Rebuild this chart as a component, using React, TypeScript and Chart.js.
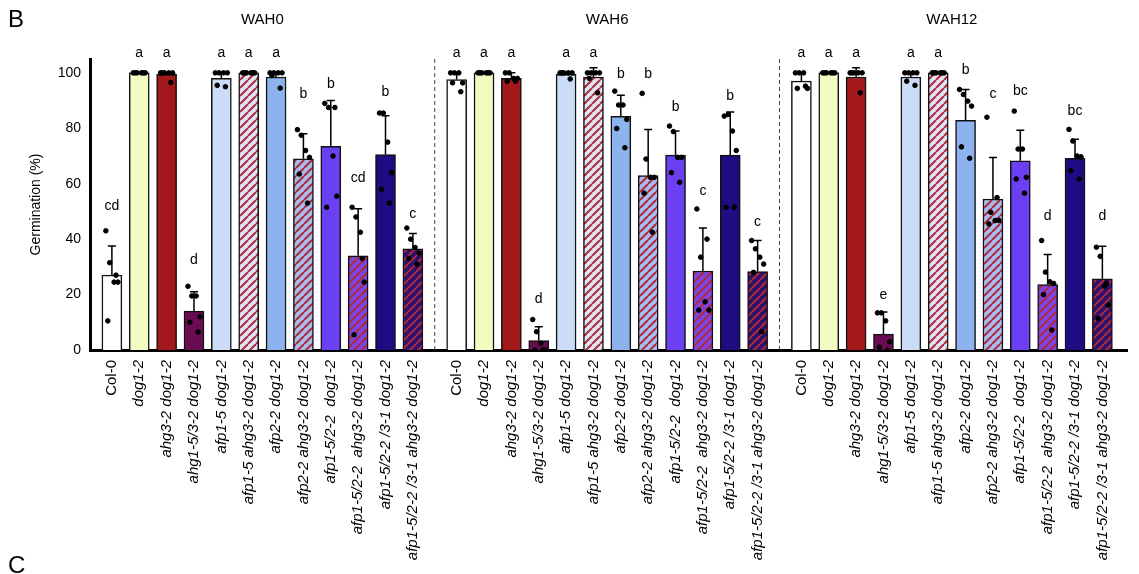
import React, { useEffect, useRef } from "react";
import { Chart, registerables } from "chart.js";
Chart.register(...registerables);

const groups = ["WAH0", "WAH6", "WAH12"];
const genotypes = ["Col-0", "dog1-2", "ahg3-2 dog1-2", "ahg1-5/3-2 dog1-2", "afp1-5 dog1-2", "afp1-5 ahg3-2 dog1-2", "afp2-2 dog1-2", "afp2-2 ahg3-2 dog1-2", "afp1-5/2-2  dog1-2", "afp1-5/2-2  ahg3-2 dog1-2", "afp1-5/2-2 /3-1 dog1-2", "afp1-5/2-2 /3-1 ahg3-2 dog1-2"];
const means = [
  [27, 100, 99.5, 14, 98, 100, 98.5, 69, 73.5, 34, 70.5, 36.5],
  [97.6, 100, 98, 3.4, 99.5, 98.5, 84.3, 62.9, 70.3, 28.5, 70.3, 28.3],
  [97, 100, 98.5, 5.7, 98.5, 100, 82.9, 54.5, 68.3, 23.6, 69.2, 25.7],
];
const errTops = [
  [37.5, 100, 100, 21, 100, 100, 100, 78, 90, 51, 84.5, 42],
  [100, 100, 100, 8.4, 100, 101.8, 91.9, 79.6, 79, 44, 85.9, 39.5],
  [100, 100, 101.8, 13.7, 100, 100, 94, 69.5, 79.3, 34.5, 76, 37.4],
];
const dots = [
  [[43, 31.5, 24.5, 24.5, 10.5, 27], [100, 100, 100, 100, 100, 100], [100, 100, 100, 100, 100, 96.5], [23, 19.5, 19.5, 12, 10, 6.5], [100, 100, 100, 100, 95.5, 95], [100, 100, 100, 100, 100, 100], [100, 100, 100, 100, 99, 94.5], [79.5, 77.5, 72, 69.5, 63.5, 53], [89, 87.5, 70, 55.5, 51.5, 87.5], [51.5, 48, 42.5, 24.5, 5.5, 33], [85.5, 85.5, 75, 64, 58, 53], [44, 40, 37, 35, 33, 31]],
  [[100, 100, 100, 96.4, 96.4, 93.2], [100, 100, 100, 100, 100, 100], [100, 100, 98, 98, 97, 97], [11, 6.6, 2.4, 0, 0, 0], [100, 100, 100, 100, 100, 97.8], [100, 100, 100, 100, 98, 92.8], [93.4, 88.4, 88.4, 83.2, 79.9, 73], [92.6, 68.9, 62.3, 62.3, 56.6, 42.5], [80.8, 78.8, 69.5, 69.5, 64, 60.5], [50.9, 33.5, 17.4, 14.4, 14.4, 40], [84.4, 85, 79, 72, 51.5, 51.5], [39.5, 36.5, 33.5, 31, 28, 6.6]],
  [[100, 100, 100, 94.4, 94.4, 95.2], [100, 100, 100, 100, 100, 100], [100, 100, 100, 100, 100, 92.8], [13.4, 13.4, 10.5, 3, 1, 0], [100, 100, 100, 100, 97, 95.5], [100, 100, 100, 100, 100, 100], [94, 92.2, 89.8, 88, 73.3, 69.2], [84, 49.7, 46.7, 46.7, 45.5, 55], [86.2, 72.5, 72.5, 62.3, 61.7, 56.6], [39.5, 28.1, 24.6, 24, 20, 7.2], [79.6, 75.4, 70, 69.7, 64.7, 61.7], [37.1, 33.8, 23, 16.2, 11.4, 24]],
];
const letters = [
  ["cd", "a", "a", "d", "a", "a", "a", "b", "b", "cd", "b", "c"],
  ["a", "a", "a", "d", "a", "a", "b", "b", "b", "c", "b", "c"],
  ["a", "a", "a", "e", "a", "a", "b", "c", "bc", "d", "bc", "d"],
];
const letterY = [
  [51.8, 107, 107, 32.4, 107, 107, 107, 92.5, 96, 62, 93, 49],
  [107, 107, 107, 18.3, 107, 107, 99.7, 99.7, 87.8, 57.3, 91.7, 46],
  [107, 107, 107, 19.8, 107, 107, 101, 92.5, 93.5, 48.2, 86.3, 48.2],
];
const yTicks = [0, 20, 40, 60, 80, 100];

const GROUP_STEP = 12.6;
const colors = ["#ffffff", "#f2fcc2", "#a3181b", "#6a0c52", "#cadcf6", "#dde4f6", "#8db3ee", "#a4bcef", "#6a40f2", "#7a45e6", "#1d0c82", "#2a1270"];
const hatched = [false, false, false, false, false, true, false, true, false, true, false, true];
const jitter = [-0.22, -0.08, 0.08, 0.22, -0.15, 0.15];
const FONT = "Liberation Sans, Arial";

function makePattern(base: string) {
  const c = document.createElement("canvas");
  c.width = 8; c.height = 8;
  const g = c.getContext("2d")!;
  g.fillStyle = base; g.fillRect(0, 0, 8, 8);
  g.strokeStyle = "#b3283a"; g.lineWidth = 2;
  g.beginPath();
  for (let k = -8; k <= 16; k += 8) { g.moveTo(k, 8); g.lineTo(k + 8, 0); }
  g.stroke();
  return g.createPattern(c, "repeat")!;
}

export default function App() {
  const ref = useRef<HTMLCanvasElement>(null);
  useEffect(() => {
    const xs: number[][] = groups.map((_, g) => genotypes.map((_, i) => g * GROUP_STEP + i));
    const fills = colors.map((c, i) => (hatched[i] ? makePattern(c) : c));
    const barData: any[] = [], barBg: any[] = [], dotData: any[] = [];
    groups.forEach((_, g) => genotypes.forEach((_, i) => {
      barData.push({ x: xs[g][i], y: means[g][i] });
      barBg.push(fills[i]);
      dots[g][i].forEach((v, k) => dotData.push({ x: xs[g][i] + jitter[k], y: v }));
    }));
    const overlay = {
      id: "overlay",
      afterDatasetsDraw(chart: any) {
        const ctx = chart.ctx, xS = chart.scales.x, yS = chart.scales.y;
        ctx.save();
        ctx.strokeStyle = "#000"; ctx.lineWidth = 1.5;
        groups.forEach((_, g) => genotypes.forEach((_, i) => {
          const px = xS.getPixelForValue(xs[g][i]);
          const y0 = yS.getPixelForValue(means[g][i]), y1 = yS.getPixelForValue(errTops[g][i]);
          if (y0 - y1 > 1) {
            ctx.beginPath(); ctx.moveTo(px, y0); ctx.lineTo(px, y1);
            ctx.moveTo(px - 4, y1); ctx.lineTo(px + 4, y1); ctx.stroke();
          }
        }));
        ctx.restore();
      },
      afterDraw(chart: any) {
        const ctx = chart.ctx, xS = chart.scales.x, yS = chart.scales.y;
        ctx.save();
        ctx.fillStyle = "#000";
        ctx.textAlign = "center"; ctx.textBaseline = "middle";
        groups.forEach((name, g) => {
          ctx.font = "14px " + FONT;
          genotypes.forEach((_, i) => {
            ctx.fillText(letters[g][i], xS.getPixelForValue(xs[g][i]), yS.getPixelForValue(letterY[g][i]));
          });
          ctx.font = "15px " + FONT;
          ctx.fillText(name, xS.getPixelForValue(g * GROUP_STEP + 5.5), 20);
        });
        ctx.strokeStyle = "#444"; ctx.lineWidth = 1; ctx.setLineDash([4, 3]);
        [1, 2].forEach((g) => {
          const px = xS.getPixelForValue(g * GROUP_STEP - (GROUP_STEP - 11) / 2);
          ctx.beginPath(); ctx.moveTo(px, yS.getPixelForValue(105)); ctx.lineTo(px, yS.getPixelForValue(0)); ctx.stroke();
        });
        ctx.setLineDash([]);
        const base = yS.getPixelForValue(0) + 10;
        groups.forEach((_, g) => genotypes.forEach((lab, i) => {
          ctx.save();
          ctx.translate(xS.getPixelForValue(xs[g][i]), base);
          ctx.rotate(-Math.PI / 2);
          ctx.textAlign = "right"; ctx.textBaseline = "middle";
          ctx.font = (i === 0 ? "" : "italic ") + "15px " + FONT;
          ctx.fillText(lab, 0, 0);
          ctx.restore();
        }));
        ctx.font = "24px " + FONT;
        ctx.textAlign = "left"; ctx.textBaseline = "top";
        ctx.fillText("B", 8, 8);
        ctx.fillText("C", 8, 554);
        ctx.restore();
      },
    };
    const chart = new Chart(ref.current!, {
      type: "bar",
      data: {
        datasets: [
          { type: "scatter", data: dotData, backgroundColor: "#000", borderColor: "#000", pointRadius: 2.3, order: 0 } as any,
          { type: "bar", data: barData, backgroundColor: barBg, borderColor: "#111", borderWidth: 1.5, barThickness: 20, order: 1 } as any,
        ],
      },
      options: {
        animation: false, responsive: false,
        plugins: { legend: { display: false }, tooltip: { enabled: false } },
        layout: { padding: { top: 59, right: 12, left: 28, bottom: 0 } },
        scales: {
          x: {
            type: "linear", min: -0.8, max: 2 * GROUP_STEP + 11.9, offset: false,
            grid: { display: false, drawTicks: false }, border: { color: "#000", width: 3 },
            ticks: { display: false },
            afterFit: (s: any) => { s.height = 224; },
          },
          y: {
            min: 0, max: 105,
            afterBuildTicks: (s: any) => { s.ticks = yTicks.map((v) => ({ value: v })); },
            grid: { display: false, drawTicks: true, tickLength: 6, tickColor: "#000", tickWidth: 2 } as any,
            border: { color: "#000", width: 3 },
            ticks: { color: "#000", font: { size: 14, family: FONT }, padding: 3 },
            title: { display: true, text: "Germination (%)", color: "#000", font: { size: 14, family: FONT }, padding: 0 },
            afterFit: (s: any) => { s.width = 62; },
          },
        },
      },
      plugins: [overlay],
    });
    return () => chart.destroy();
  }, []);
  return (
    <div style={{ position: "absolute", left: 0, top: 0, width: 1139, height: 574, background: "#fff" }}>
      <canvas ref={ref} width={1139} height={574} />
    </div>
  );
}
